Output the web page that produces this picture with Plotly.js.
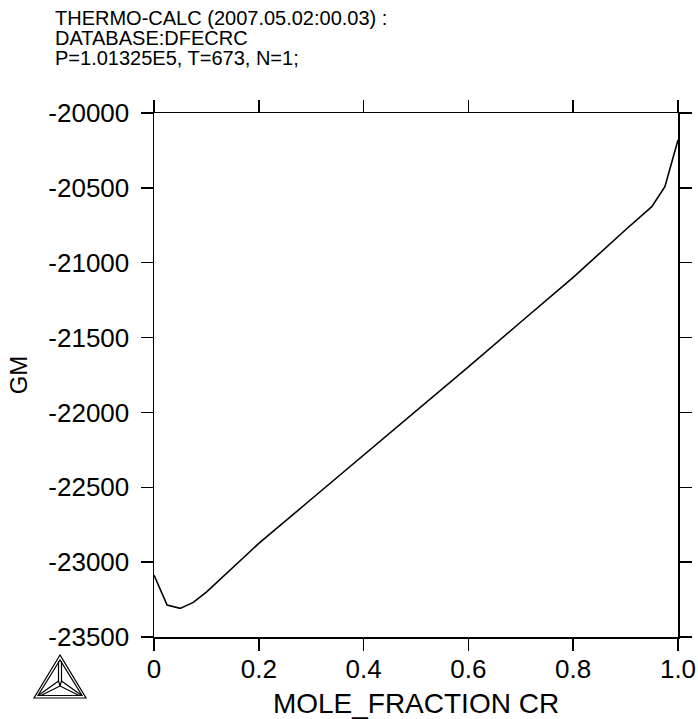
<!DOCTYPE html>
<html>
<head>
<meta charset="utf-8">
<script src="https://cdn.plot.ly/plotly-3.0.1.min.js"></script>
<style>html,body{margin:0;padding:0;background:#fff;}#chart{width:698px;height:719px;}</style>
</head>
<body>
<div id="chart"></div>
<script>
// Data
const moleFractionCr = [0, 0.025, 0.05, 0.075, 0.1, 0.2, 0.3, 0.4, 0.5, 0.6, 0.7, 0.8, 0.9, 0.95, 0.975, 1.0];
const gm = [-23086, -23287, -23309, -23269, -23200, -22875, -22580, -22287, -21990, -21695, -21396, -21098, -20780, -20626, -20492, -20180];
const xTickVals = [0, 0.2, 0.4, 0.6, 0.8, 1.0];
const xTickText = ['0', '0.2', '0.4', '0.6', '0.8', '1.0'];
const yTickVals = [-23500, -23000, -22500, -22000, -21500, -21000, -20500, -20000];
const yTickText = ['-23500', '-23000', '-22500', '-22000', '-21500', '-21000', '-20500', '-20000'];
const titleLines = ['THERMO-CALC (2007.05.02:00.03) :', 'DATABASE:DFECRC', 'P=1.01325E5, T=673, N=1;'];

const W = 698, H = 719;
const L = 154, R = 678, T = 113, B = 637;
const px = v => (v - L) / (R - L);
const py = v => (B - v) / (B - T);
const FONT = 'Liberation Sans, Arial, Helvetica, sans-serif';

const annotations = titleLines.map((t, i) => ({
  text: t, xref: 'paper', yref: 'paper', x: px(53), y: py(18 + 20 * i),
  xanchor: 'left', yanchor: 'middle', showarrow: false,
  font: {family: FONT, size: 20, color: '#000'}
}));

// Thermo-Calc logo (decoration)
function tri(a, b, c) {
  return {type: 'path', xref: 'paper', yref: 'paper',
    path: `M ${px(a[0])},${py(a[1])} L ${px(b[0])},${py(b[1])} L ${px(c[0])},${py(c[1])} Z`,
    line: {color: '#000', width: 1.2}};
}
function seg(a, b) {
  return {type: 'line', xref: 'paper', yref: 'paper', x0: px(a[0]), y0: py(a[1]), x1: px(b[0]), y1: py(b[1]),
    line: {color: '#000', width: 1.2}};
}
const shapes = [
  tri([60, 655], [34, 698], [86, 698]),
  tri([60, 660], [38, 695.5], [82, 695.5]),
  seg([58.5, 661], [58.5, 681]), seg([61.5, 661], [61.5, 681]),
  seg([58.5, 681], [39, 695]), seg([61.5, 681], [81, 695]),
  seg([60, 686], [41, 695.5]), seg([60, 686], [79, 695.5]),
  seg([58.5, 681], [60, 686]), seg([61.5, 681], [60, 686])
];

const trace = {
  x: moleFractionCr, y: gm, type: 'scatter', mode: 'lines',
  line: {color: '#000', width: 1.6}, hoverinfo: 'skip'
};

const axisCommon = {
  showgrid: false, zeroline: false, showline: true, linecolor: '#000', linewidth: 1.5,
  mirror: 'ticks', ticks: 'outside', ticklen: 12, tickwidth: 1.5, tickcolor: '#000',
  tickfont: {family: FONT, size: 26, color: '#000'}
};

const layout = {
  width: W, height: H,
  margin: {l: L, r: W - R, t: T, b: H - B},
  paper_bgcolor: '#fff', plot_bgcolor: '#fff',
  showlegend: false,
  xaxis: Object.assign({}, axisCommon, {
    range: [0, 1], tickmode: 'array', tickvals: xTickVals, ticktext: xTickText,
    ticklabelstandoff: -4,
    title: {text: 'MOLE_FRACTION CR', font: {family: FONT, size: 28, color: '#000'}, standoff: 10}
  }),
  yaxis: Object.assign({}, axisCommon, {
    range: [-23500, -20000], tickmode: 'array', tickvals: yTickVals, ticktext: yTickText,
    ticklabelstandoff: 6,
    title: {text: 'GM', font: {family: FONT, size: 24, color: '#000'}, standoff: 14}
  }),
  annotations: annotations,
  shapes: shapes
};

Plotly.newPlot('chart', [trace], layout, {staticPlot: true, displayModeBar: false});
</script>
</body>
</html>
